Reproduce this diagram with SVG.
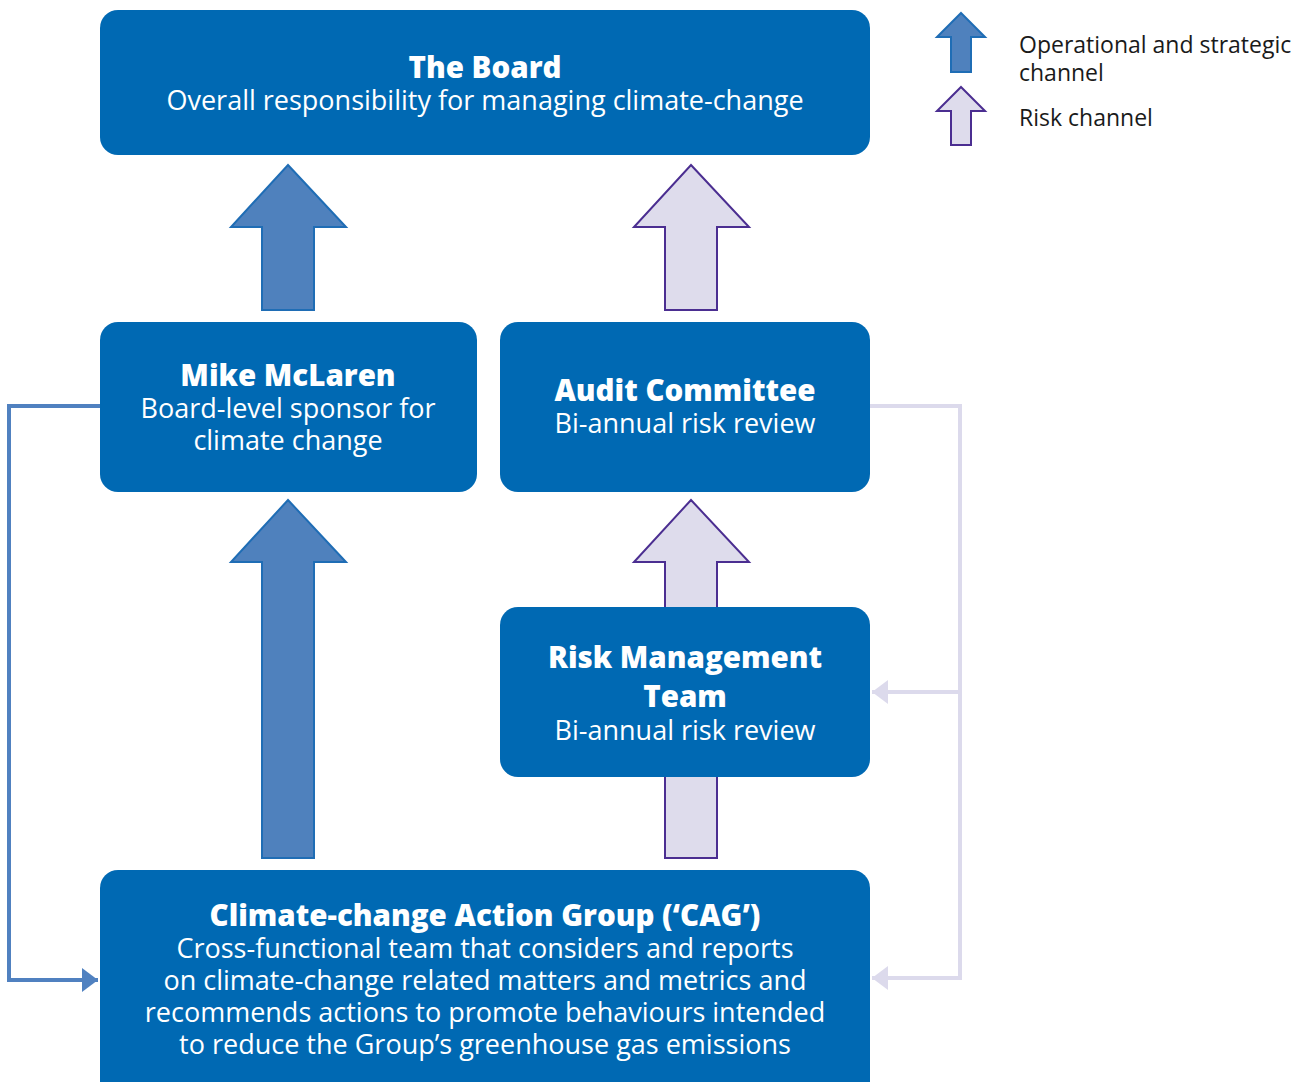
<svg xmlns="http://www.w3.org/2000/svg" width="1303" height="1082" viewBox="0 0 1303 1082">
<style>
.box{fill:#0069b3}
.t{font-family:"Open Sans","Noto Sans","Liberation Sans",sans-serif;fill:#fff;text-anchor:middle}
.h{font-weight:800;font-size:29.5px}
.s{font-size:27px}
.leg{font-family:"Open Sans","Noto Sans","Liberation Sans",sans-serif;fill:#1a1a1a;font-size:23px}
.ops{fill:#4f81bd;stroke:#1f6db5;stroke-width:2;stroke-linejoin:miter}
.risk{fill:#dedcec;stroke:#4b2e91;stroke-width:2;stroke-linejoin:miter}
.cb{fill:none;stroke:#5081c0;stroke-width:4}
.cr{fill:none;stroke:#dcdaec;stroke-width:4}
</style>
<defs>
<marker id="ab" viewBox="0 0 16 24" refX="16" refY="12" markerWidth="16" markerHeight="24" markerUnits="userSpaceOnUse" orient="auto"><path d="M0,0L16,12L0,24Z" fill="#5081c0"/></marker>
<marker id="ar" viewBox="0 0 16 24" refX="16" refY="12" markerWidth="16" markerHeight="24" markerUnits="userSpaceOnUse" orient="auto"><path d="M0,0L16,12L0,24Z" fill="#dcdaec"/></marker>
</defs>
<rect width="1303" height="1082" fill="#fff"/>
<g id="connectors">
<polyline class="cb" points="100,406 9,406 9,980 98,980" marker-end="url(#ab)"/>
<polyline class="cr" points="870,406 960,406 960,978 872,978" marker-end="url(#ar)"/>
<polyline class="cr" points="960,692 872,692" marker-end="url(#ar)"/>
<polygon class="ops" points="288,165 346,227 314,227 314,310 262,310 262,227 231,227"/>
<polygon class="ops" points="288,500 346,562 314,562 314,858 262,858 262,562 231,562"/>
<polygon class="risk" points="691,165 749,227 717,227 717,310 665,310 665,227 634,227"/>
<polygon class="risk" points="691,500 749,562 717,562 717,858 665,858 665,562 634,562"/>
</g>
<g id="legend">
<polygon class="ops" points="961,13 985,37 971,37 971,72 951,72 951,37 937,37"/>
<polygon class="risk" points="961,87 985,111 971,111 971,145 951,145 951,111 937,111"/>
<text class="leg" x="1019" y="53">Operational and strategic</text>
<text class="leg" x="1019" y="81">channel</text>
<text class="leg" x="1019" y="126">Risk channel</text>
</g>
<g id="board">
<rect class="box" x="100" y="10" width="770" height="145" rx="18"/>
<text class="t h" x="485" y="78">The Board</text>
<text class="t s" x="485" y="110">Overall responsibility for managing climate-change</text>
</g>
<g id="mike">
<rect class="box" x="100" y="322" width="377" height="170" rx="18"/>
<text class="t h" x="288" y="386">Mike McLaren</text>
<text class="t s" x="288" y="418">Board-level sponsor for</text>
<text class="t s" x="288" y="450">climate change</text>
</g>
<g id="audit">
<rect class="box" x="500" y="322" width="370" height="170" rx="18"/>
<text class="t h" x="685" y="401">Audit Committee</text>
<text class="t s" x="685" y="433">Bi-annual risk review</text>
</g>
<g id="riskteam">
<rect class="box" x="500" y="607" width="370" height="170" rx="18"/>
<text class="t h" x="685" y="668">Risk Management</text>
<text class="t h" x="685" y="707">Team</text>
<text class="t s" x="685" y="740">Bi-annual risk review</text>
</g>
<g id="cag">
<rect class="box" x="100" y="870" width="770" height="230" rx="18"/>
<text class="t h" x="485" y="926">Climate-change Action Group (‘CAG’)</text>
<text class="t s" x="485" y="958">Cross-functional team that considers and reports</text>
<text class="t s" x="485" y="990">on climate-change related matters and metrics and</text>
<text class="t s" x="485" y="1022">recommends actions to promote behaviours intended</text>
<text class="t s" x="485" y="1054">to reduce the Group’s greenhouse gas emissions</text>
</g>
</svg>
